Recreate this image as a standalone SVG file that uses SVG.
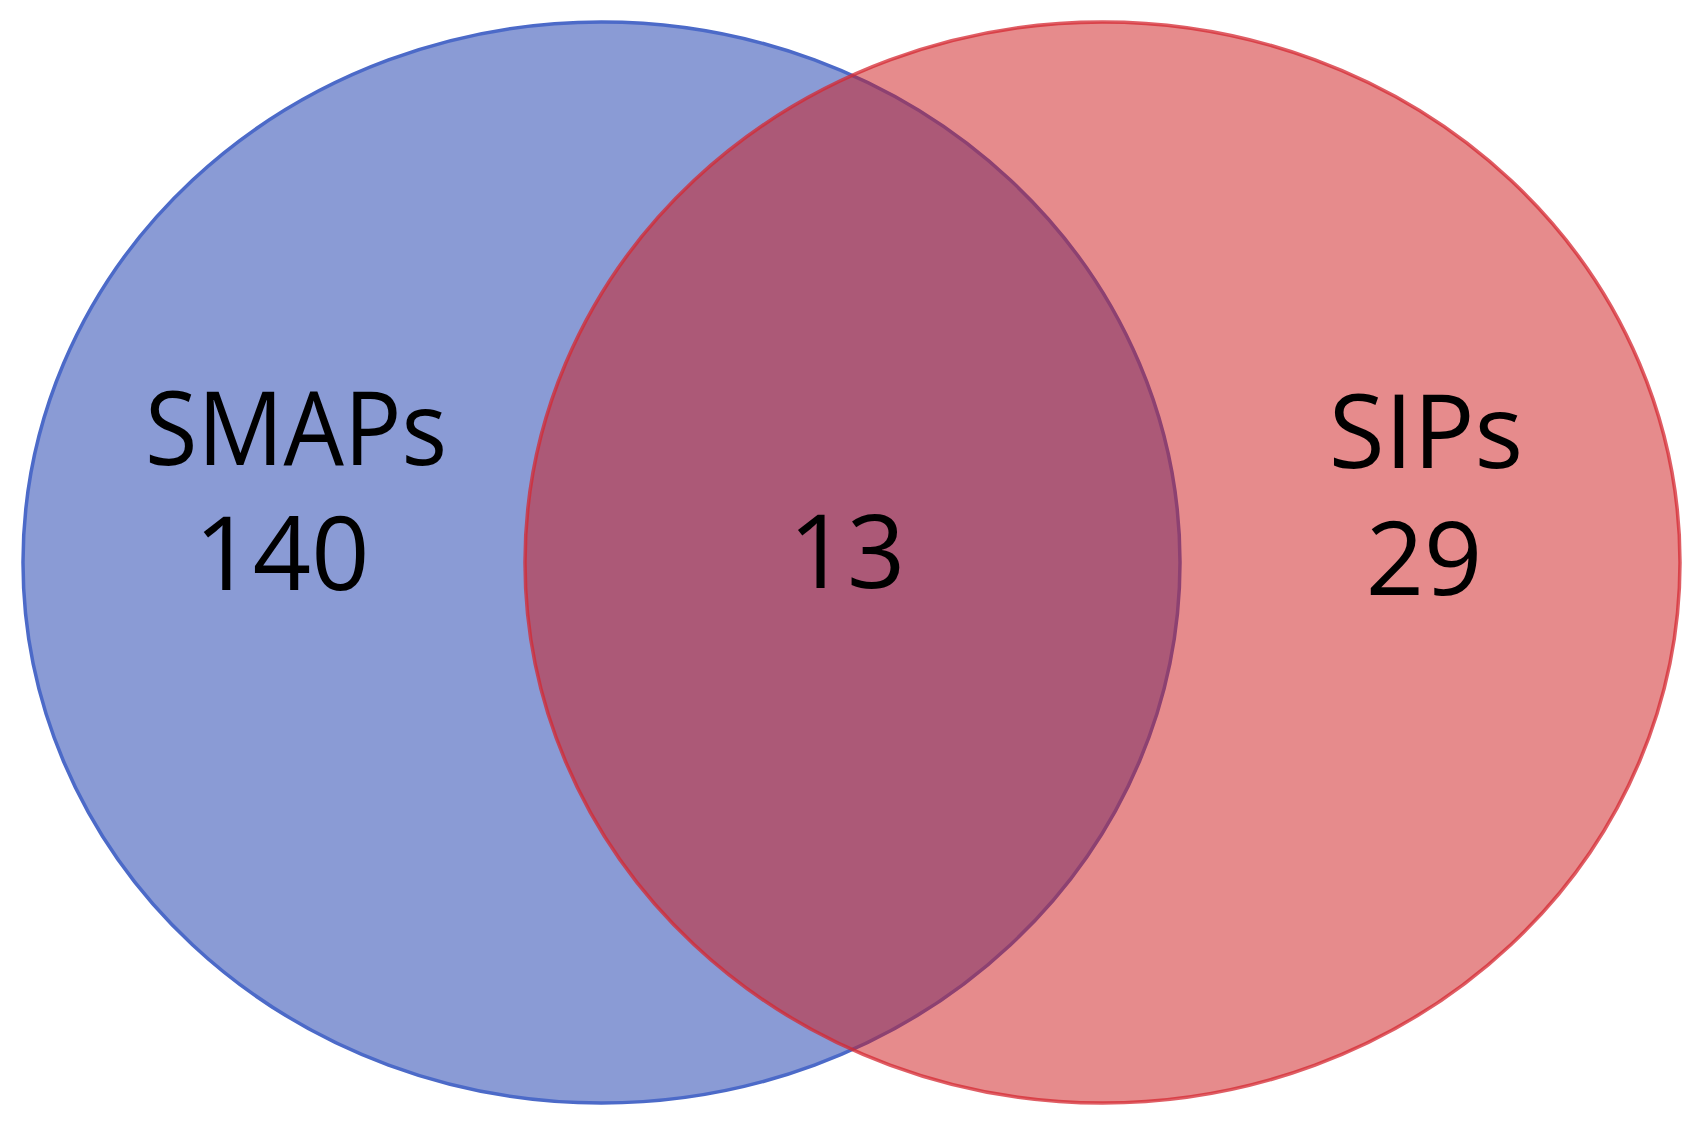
<svg xmlns="http://www.w3.org/2000/svg" width="1706" height="1126" viewBox="0 0 1706 1126">
<style>
.lbl{font-family:"Open Sans","Noto Sans","DejaVu Sans",sans-serif;font-size:102px;fill:#000;text-anchor:middle}
</style>
<rect width="1706" height="1126" fill="#fff"/>
<g id="smaps">
<ellipse cx="601.5" cy="562.5" rx="578.5" ry="540.5" fill="#8A9BD5" stroke="#4C6AC8" stroke-width="3.5"/>
</g>
<g id="sips">
<ellipse cx="1102.5" cy="562.5" rx="577.5" ry="540.5" fill="rgb(206,24,26)" fill-opacity="0.5" stroke="rgb(212,40,50)" stroke-opacity="0.75" stroke-width="3.5"/>
</g>
<g id="labels">
<text class="lbl" x="296" y="465" textLength="302" lengthAdjust="spacingAndGlyphs">SMAPs</text>
<text class="lbl" x="282" y="590">140</text>
<text class="lbl" x="847" y="588">13</text>
<text class="lbl" x="1426" y="468">SIPs</text>
<text class="lbl" x="1424" y="595">29</text>
</g>
</svg>
